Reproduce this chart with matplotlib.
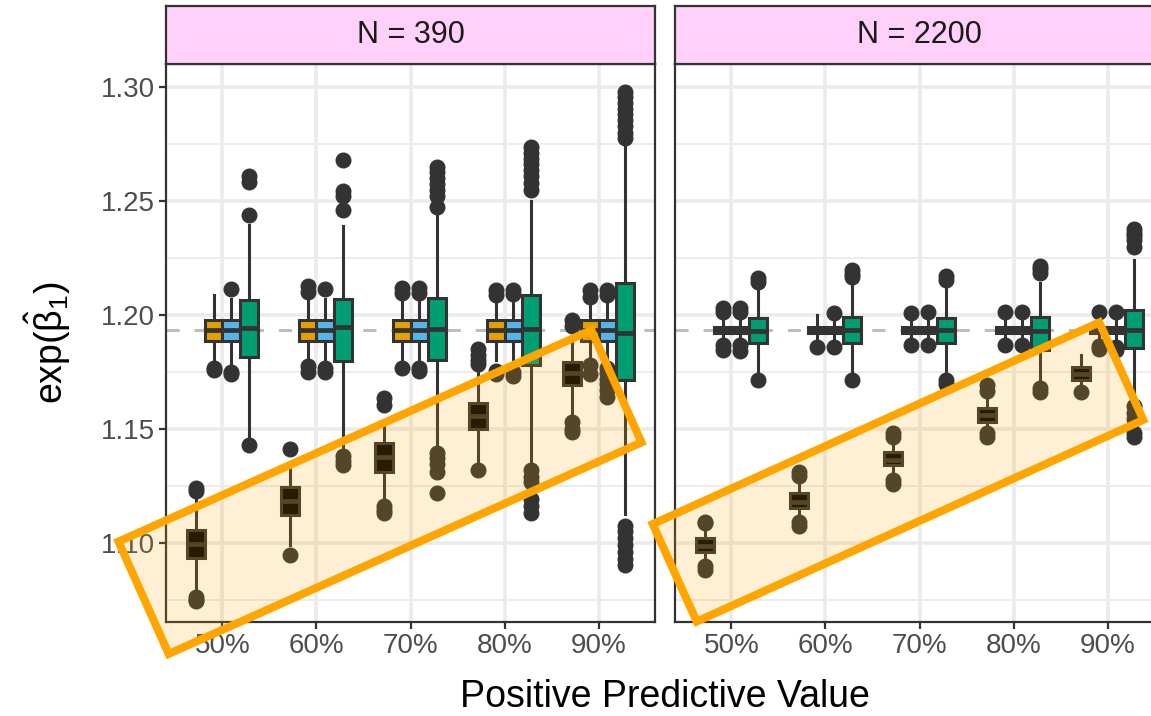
import matplotlib
matplotlib.use("Agg")
import matplotlib.pyplot as plt
from matplotlib.patches import Rectangle
import numpy as np

plt.rcParams["font.family"] = ["Liberation Sans", "DejaVu Sans"]
plt.rcParams["mathtext.fontset"] = "custom"
plt.rcParams["mathtext.rm"] = "Liberation Sans"
plt.rcParams["mathtext.it"] = "Liberation Sans:italic"

# ---- data -----------------------------------------------------------------
ppv_labels = ["50%", "60%", "70%", "80%", "90%"]
panel_titles = ["N = 390", "N = 2200"]
method_fills = ["#000000", "#E69F00", "#56B4E9", "#009E73"]
true_value = 1.1935

# rows = method (naive, orange, blue, green), cols = PPV level
lo_390 = [
    [1.0800, 1.0990, 1.1189, 1.1340, 1.1550],
    [1.1800, 1.1800, 1.1800, 1.1800, 1.1800],
    [1.1790, 1.1800, 1.1800, 1.1790, 1.1800],
    [1.1460, 1.1420, 1.1425, 1.1350, 1.1125],
]
q1_390 = [
    [1.0934, 1.1123, 1.1311, 1.1500, 1.1693],
    [1.1887, 1.1887, 1.1887, 1.1887, 1.1887],
    [1.1887, 1.1887, 1.1887, 1.1887, 1.1887],
    [1.1814, 1.1798, 1.1800, 1.1780, 1.1715],
]
med_390 = [
    [1.0996, 1.1184, 1.1377, 1.1557, 1.1746],
    [1.1934, 1.1934, 1.1934, 1.1934, 1.1934],
    [1.1934, 1.1934, 1.1934, 1.1934, 1.1934],
    [1.1943, 1.1945, 1.1940, 1.1940, 1.1920],
]
q3_390 = [
    [1.1057, 1.1246, 1.1439, 1.1614, 1.1794],
    [1.1978, 1.1978, 1.1978, 1.1978, 1.1978],
    [1.1978, 1.1978, 1.1978, 1.1978, 1.1978],
    [1.2066, 1.2070, 1.2075, 1.2085, 1.2142],
]
hi_390 = [
    [1.1189, 1.1345, 1.1526, 1.1760, 1.1900],
    [1.2088, 1.2060, 1.2060, 1.2060, 1.2060],
    [1.2070, 1.2070, 1.2065, 1.2065, 1.2065],
    [1.2395, 1.2390, 1.2440, 1.2500, 1.2745],
]
fliers_390 = [
    [
        [1.1240, 1.1228, 1.0762, 1.0750, 1.0745],
        [1.1412, 1.0947],
        [1.1636, 1.1605, 1.1160, 1.1145, 1.1130],
        [1.1850, 1.1825, 1.1800, 1.1785, 1.1318],
        [1.1978, 1.1950, 1.1530, 1.1500, 1.1487],
    ],
    [
        [1.1768, 1.1756],
        [1.2125, 1.2100, 1.1775, 1.1750],
        [1.2120, 1.2095, 1.1765],
        [1.2110, 1.2085, 1.1755, 1.1740],
        [1.2110, 1.2080, 1.1780, 1.1740],
    ],
    [
        [1.2114, 1.1750, 1.1740],
        [1.2115, 1.1765, 1.1750],
        [1.2120, 1.2095, 1.1768, 1.1752],
        [1.2110, 1.2090, 1.1750, 1.1730],
        [1.2110, 1.2085, 1.1768, 1.1745, 1.1720, 1.1695, 1.1670, 1.1640],
    ],
    [
        [1.2610, 1.2585, 1.2440, 1.1430],
        [1.2680, 1.2545, 1.2520, 1.2460, 1.1380, 1.1360, 1.1340],
        [1.2650, 1.2625, 1.2600, 1.2575, 1.2550, 1.2520, 1.2475,
         1.1395, 1.1370, 1.1345, 1.1310, 1.1220],
        [1.2735, 1.2710, 1.2685, 1.2660, 1.2635, 1.2610, 1.2580, 1.2550,
         1.1320, 1.1290, 1.1268, 1.1190, 1.1160, 1.1132],
        [1.2980, 1.2955, 1.2930, 1.2905, 1.2880, 1.2855, 1.2830, 1.2800,
         1.2775, 1.1075, 1.1050, 1.1020, 1.0990, 1.0960, 1.0930, 1.0900],
    ],
]

lo_2200 = [
    [1.0930, 1.1120, 1.1300, 1.1500, 1.1690],
    [1.1895, 1.1895, 1.1895, 1.1895, 1.1895],
    [1.1895, 1.1895, 1.1895, 1.1895, 1.1895],
    [1.1740, 1.1740, 1.1735, 1.1690, 1.1630],
]
q1_2200 = [
    [1.0960, 1.1154, 1.1342, 1.1531, 1.1715],
    [1.1920, 1.1920, 1.1920, 1.1920, 1.1920],
    [1.1920, 1.1920, 1.1920, 1.1920, 1.1920],
    [1.1878, 1.1877, 1.1877, 1.1846, 1.1855],
]
med_2200 = [
    [1.0985, 1.1180, 1.1365, 1.1560, 1.1740],
    [1.1933, 1.1933, 1.1933, 1.1933, 1.1933],
    [1.1933, 1.1933, 1.1933, 1.1933, 1.1933],
    [1.1930, 1.1934, 1.1932, 1.1930, 1.1934],
]
q3_2200 = [
    [1.1022, 1.1219, 1.1399, 1.1592, 1.1772],
    [1.1946, 1.1946, 1.1946, 1.1946, 1.1946],
    [1.1946, 1.1946, 1.1946, 1.1946, 1.1946],
    [1.1985, 1.1991, 1.1987, 1.1991, 1.2022],
]
hi_2200 = [
    [1.1060, 1.1265, 1.1440, 1.1640, 1.1825],
    [1.1975, 1.2000, 1.1975, 1.1975, 1.1975],
    [1.1975, 1.1975, 1.1975, 1.1975, 1.1975],
    [1.2120, 1.2130, 1.2130, 1.2140, 1.2240],
]
fliers_2200 = [
    [
        [1.1092, 1.1085, 1.0898, 1.0880],
        [1.1310, 1.1292, 1.1090, 1.1072],
        [1.1482, 1.1465, 1.1275, 1.1258],
        [1.1690, 1.1668, 1.1480, 1.1462],
        [1.1662],
    ],
    [
        [1.2030, 1.2012, 1.1868, 1.1845],
        [1.1860],
        [1.2010, 1.1866],
        [1.2012, 1.1868],
        [1.2012, 1.1862, 1.1848],
    ],
    [
        [1.2030, 1.2012, 1.1868, 1.1840],
        [1.2009, 1.1860],
        [1.2012, 1.1866],
        [1.2012, 1.1866],
        [1.2012, 1.1860, 1.1845],
    ],
    [
        [1.2160, 1.2145, 1.1715],
        [1.2195, 1.2180, 1.2165, 1.1715],
        [1.2170, 1.2155, 1.1712, 1.1695],
        [1.2215, 1.2200, 1.2185, 1.1678, 1.1660],
        [1.2375, 1.2360, 1.2345, 1.2330, 1.2300,
         1.1600, 1.1570, 1.1545, 1.1480, 1.1465],
    ],
]

# ---- styling --------------------------------------------------------------
W, H = 1151, 716
EDGE = "#333333"
GRID = "#EBEBEB"
box_w = 0.1875
offsets = np.array([-1.5, -0.5, 0.5, 1.5]) * box_w
positions = np.arange(1, len(ppv_labels) + 1)

fig = plt.figure(figsize=(W / 100, H / 100), dpi=100)


def px_axes(x0, y_top, w, h):
    return fig.add_axes([x0 / W, (H - y_top - h) / H, w / W, h / H])


def draw_panel(ax, lo, q1, med, q3, hi, fliers):
    ax.axhline(true_value, color="#BEBEBE", lw=2.2, ls=(0, (4.3, 4.9)), zorder=1.5)
    for m, fill in enumerate(method_fills):
        stats = [
            dict(whislo=lo[m][p], q1=q1[m][p], med=med[m][p], q3=q3[m][p],
                 whishi=hi[m][p], fliers=fliers[m][p])
            for p in range(len(ppv_labels))
        ]
        ax.bxp(
            stats, positions=positions + offsets[m], widths=box_w,
            patch_artist=True, showcaps=False, manage_ticks=False,
            boxprops=dict(facecolor=fill, edgecolor=EDGE, linewidth=2.2),
            medianprops=dict(color=EDGE, linewidth=3.4, solid_capstyle="butt"),
            whiskerprops=dict(color=EDGE, linewidth=2.2),
            flierprops=dict(marker="o", markerfacecolor=EDGE, markeredgecolor=EDGE,
                            markersize=10.5, linestyle="none"),
        )
    ax.set_xlim(0.4, len(ppv_labels) + 0.6)
    ax.set_ylim(1.0652, 1.3101)
    ax.set_xticks(positions)
    ax.set_xticklabels(ppv_labels)
    ax.set_yticks([1.10, 1.15, 1.20, 1.25, 1.30])
    ax.set_yticks([1.075, 1.125, 1.175, 1.225, 1.275], minor=True)
    ax.grid(True, which="major", color=GRID, lw=2.6)
    ax.grid(True, which="minor", axis="y", color=GRID, lw=1.3)
    ax.set_axisbelow(True)
    ax.tick_params(which="major", length=5, width=1.6, color=EDGE,
                   labelsize=20, labelcolor="#4D4D4D", pad=3)
    ax.tick_params(which="minor", length=0)
    for s in ax.spines.values():
        s.set_color(EDGE)
        s.set_linewidth(1.6)


panel_left = [166, 675]
panel_w = 489
for i, (x0, title) in enumerate(zip(panel_left, panel_titles)):
    ax = px_axes(x0, 64, panel_w, 558)
    if i == 0:
        draw_panel(ax, lo_390, q1_390, med_390, q3_390, hi_390, fliers_390)
        ax.yaxis.set_major_formatter(lambda v, _: f"{v:.2f}")
    else:
        draw_panel(ax, lo_2200, q1_2200, med_2200, q3_2200, hi_2200, fliers_2200)
        ax.tick_params(axis="y", which="both", left=False, labelleft=False)

    strip = px_axes(x0, 6, panel_w, 58)
    strip.set_facecolor("#FFD0F9")
    strip.set_xticks([])
    strip.set_yticks([])
    for s in strip.spines.values():
        s.set_color(EDGE)
        s.set_linewidth(1.6)
    strip.text(0.5, 0.5, title, ha="center", va="center", fontsize=22,
               color="#1A1A1A", transform=strip.transAxes)

fig.text(665 / W, 1 - 697 / H, "Positive Predictive Value", ha="center",
         va="center", fontsize=27)
fig.text(48 / W, 1 - 343 / H, r"exp($\hat{\mathrm{\beta}}_{1}$)", ha="center",
         va="center", rotation=90, fontsize=27)

# highlight boxes around the naive estimates
for cx, cy, w, h, angle in [(380, 492, 518, 123, 24.1), (898, 472, 490, 107, 24.3)]:
    rect = Rectangle(((cx - w / 2) / 100, (H - cy - h / 2) / 100), w / 100, h / 100,
                     angle=angle, rotation_point="center",
                     transform=fig.dpi_scale_trans,
                     facecolor=(1.0, 0.647, 0.0, 0.17), edgecolor="#FFA500",
                     linewidth=5.8, zorder=10)
    fig.add_artist(rect)

fig.savefig("out.png", dpi=100)
